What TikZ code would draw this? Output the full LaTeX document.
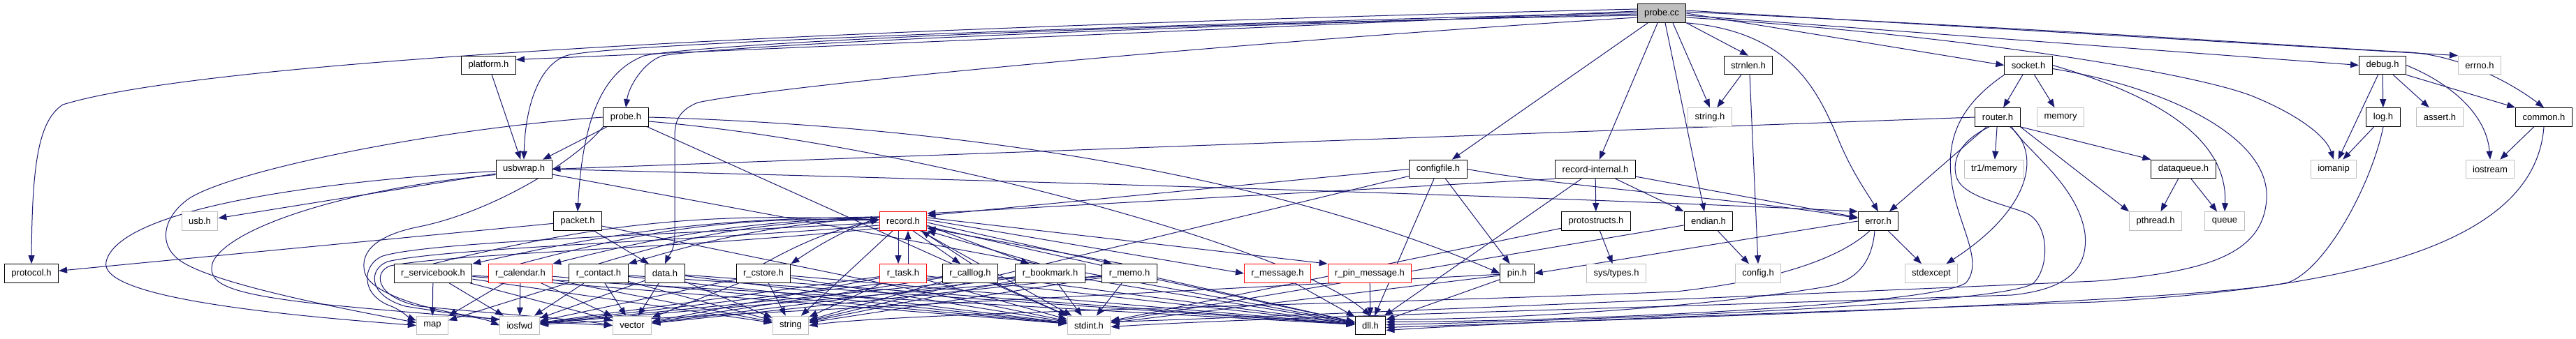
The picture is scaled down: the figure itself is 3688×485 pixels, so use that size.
\documentclass[tikz,border=0pt]{standalone}
\usepackage{fontspec}
\setmainfont{Liberation Sans}
\usetikzlibrary{arrows.meta}
\definecolor{edgec}{HTML}{191970}
\definecolor{grayb}{HTML}{BFBFBF}
\pgfdeclarelayer{background}
\pgfsetlayers{background,main}
\begin{document}
\begin{tikzpicture}[x=1pt,y=1pt,
  nb/.style={draw=black,fill=white,line width=1pt,minimum height=26.7pt,inner xsep=10pt,inner ysep=0pt,font=\fontsize{13}{15}\selectfont},
  ng/.style={nb,draw=grayb},
  nr/.style={nb,draw=red},
  nroot/.style={nb,fill=grayb},
  dep/.style={draw=edgec,line width=1pt,-{Triangle[length=12pt,width=9pt]}}]
\useasboundingbox (0,0) rectangle (3688,485);
% row 0
\node[nroot] (cc) at (2379,466) {probe.cc};
% row 1
\node[nb] (platform) at (699.5,391.5) {platform.h};
\node[nb] (strnlen) at (2503,391.5) {strnlen.h};
\node[nb] (socket) at (2904,391.5) {socket.h};
\node[nb] (debug) at (3411,391.5) {debug.h};
\node[ng] (errno) at (3550,391.5) {errno.h};
% row 2
\node[nb] (probeh) at (896,317) {probe.h};
\node[ng] (stringh) at (2448,317) {string.h};
\node[nb] (router) at (2860,317) {router.h};
\node[ng] (memory) at (2950,317) {memory};
\node[nb] (log) at (3412,317) {log.h};
\node[ng] (assert) at (3493,317) {assert.h};
\node[nb] (common) at (3642,317) {common.h};
% row 3
\node[nb] (usbwrap) at (750,242.5) {usbwrap.h};
\node[nb] (configfile) at (2059,242.5) {configfile.h};
\node[nb] (recint) at (2284,242.5) {record-internal.h};
\node[ng] (tr1) at (2855,242.5) {tr1/memory};
\node[nb] (dataqueue) at (3126,242.5) {dataqueue.h};
\node[ng] (iomanip) at (3341,242.5) {iomanip};
\node[ng] (iostream) at (3565,242.5) {iostream};
% row 4
\node[ng] (usb) at (286,168) {usb.h};
\node[nb] (packet) at (827,168) {packet.h};
\node[nr] (record) at (1293,168) {record.h};
\node[nb] (protostructs) at (2285,168) {protostructs.h};
\node[nb] (endian) at (2446,168) {endian.h};
\node[nb] (error) at (2689,168) {error.h};
\node[ng] (pthread) at (3086,168) {pthread.h};
\node[ng] (queue) at (3185,168) {queue};
% row 5
\node[nb] (protocol) at (45,93) {protocol.h};
\node[nb] (rsb) at (620,93) {r\_servicebook.h};
\node[nr] (rcal) at (745,93) {r\_calendar.h};
\node[nb] (rcon) at (857,93) {r\_contact.h};
\node[nb] (data) at (952,93) {data.h};
\node[nb] (rcs) at (1093,93) {r\_cstore.h};
\node[nr] (rtask) at (1293,93) {r\_task.h};
\node[nb] (rcl) at (1389,93) {r\_calllog.h};
\node[nb] (rbm) at (1503.5,93) {r\_bookmark.h};
\node[nb] (rmemo) at (1617,93) {r\_memo.h};
\node[nr] (rmsg) at (1829,93) {r\_message.h};
\node[nr] (rpin) at (1961,93) {r\_pin\_message.h};
\node[nb] (pin) at (2172,93) {pin.h};
\node[ng] (systypes) at (2314,93) {sys/types.h};
\node[ng] (config) at (2517,93) {config.h};
\node[ng] (stdexcept) at (2765,93) {stdexcept};
% row 6
\node[ng] (map) at (619,18.5) {map};
\node[ng] (iosfwd) at (744,18.5) {iosfwd};
\node[ng] (vector) at (905,18.5) {vector};
\node[ng] (string) at (1132,18.5) {string};
\node[ng] (stdint) at (1559,18.5) {stdint.h};
\node[nb] (dll) at (1962,18.5) {dll.h};

\begin{pgfonlayer}{background}
\fill[white] (0,0) rectangle (3688,485);
% ---- probe.cc
\draw[dep] ([yshift=6]cc.west) .. controls (1200,445) and (300,400) .. (90,335) .. controls (55,312) and (46,250) .. (protocol.north);
\draw[dep] ([yshift=3]cc.west) -- ([yshift=8]platform.east);
\draw[dep] ([yshift=1]cc.west) .. controls (1300,440) and (850,418) .. (810,405) .. controls (770,390) and (752,330) .. (usbwrap.north);
\draw[dep] ([yshift=-1]cc.west) .. controls (1400,440) and (1000,415) .. (948,405) .. controls (920,395) and (900,360) .. (probeh.north);
\draw[dep] ([yshift=-3]cc.west) .. controls (1400,445) and (980,418) .. (922,405) .. controls (870,385) and (835,330) .. (packet.north);
\draw[dep] ([yshift=-6]cc.west) .. controls (1700,420) and (1100,360) .. (999,338) .. controls (975,328) and (966,315) .. (966,290) -- (966,150) .. controls (966,125) and (957,118) .. (data.north);
\draw[dep] (cc) -- (configfile);
\draw[dep] (cc) -- (recint);
\draw[dep] ([xshift=5]cc.south) -- ([xshift=-6]endian.north);
\draw[dep] ([xshift=16]cc.south) -- (stringh.north);
\draw[dep] (cc.south east) -- (strnlen.north);
\draw[dep] (cc.south east) .. controls (2560,440) and (2600,360) .. (2630,290) .. controls (2650,240) and (2672,210) .. (error.north);
\draw[dep] (cc.east) -- (socket.west);
\draw[dep] ([yshift=-3]cc.east) -- (debug.west);
\draw[dep] ([yshift=4]cc.east) -- (errno.north west);
\draw[dep] ([yshift=2]cc.east) .. controls (3000,440) and (3300,418) .. (3450,410) .. controls (3520,405) and (3590,370) .. (common.north);
\draw[dep] ([yshift=-6]cc.east) .. controls (2800,436) and (3150,380) .. (3230,345) .. controls (3290,320) and (3330,290) .. (iomanip.north);
% ---- platform, probe.h
\draw[dep] (platform) -- (usbwrap);
\draw[dep] (probeh) -- (usbwrap);
\draw[dep] (probeh.east) .. controls (1500,300) and (1900,200) .. (pin.west);
\draw[dep] ([yshift=-6]probeh.east) .. controls (1300,280) and (1850,130) .. (dll.north);
\draw[dep] (probeh) -- (stdint);
\draw[dep] (probeh.west) .. controls (620,300) and (330,240) .. (270,200) .. controls (235,175) and (228,140) .. (250,118) .. controls (280,85) and (450,50) .. ([yshift=4]map.west);
\draw[dep] (probeh.south west) .. controls (820,250) and (700,180) .. (600,160) .. controls (540,148) and (515,125) .. (522,95) .. controls (530,62) and (620,38) .. ([yshift=8]iosfwd.west);
% ---- usbwrap
\draw[dep] (usbwrap) -- (usb);
\draw[dep] ([yshift=-3]usbwrap.west) .. controls (450,225) and (170,185) .. (152,110) .. controls (140,60) and (380,35) .. (map.west);
\draw[dep] ([yshift=-8]usbwrap.west) .. controls (500,215) and (330,160) .. (305,110) .. controls (295,80) and (320,65) .. (450,50) .. controls (650,30) and (800,22) .. (vector.west);
\draw[dep] (usbwrap.east) .. controls (1500,225) and (2300,200) .. (error.north west);
\draw[dep] (usbwrap) -- (dll);
% ---- packet
\draw[dep] (packet) -- (protocol);
\draw[dep] (packet) -- (data);
\draw[dep] (packet) -- (stdint);
% ---- configfile, record-internal
\draw[dep] (configfile.west) -- ([yshift=8]record.east);
\draw[dep] (configfile) -- (pin);
\draw[dep] (configfile) -- (string);
\draw[dep] (configfile) -- (dll);
\draw[dep] (configfile.east) .. controls (2250,215) and (2500,200) .. ([yshift=4]error.west);
\draw[dep] (recint) -- (protostructs);
\draw[dep] (recint.south west) -- ([yshift=11]record.east);
\draw[dep] (recint) -- (error);
\draw[dep] (recint) -- (endian.north west);
\draw[dep] (recint) -- (dll);
\draw[dep] (protostructs) -- (systypes);
\draw[dep] (protostructs) -- (stdint);
\draw[dep] (endian) -- (config);
\draw[dep] (endian) -- (stdint);
\draw[dep] (strnlen) -- (stringh);
\draw[dep] ([xshift=2]strnlen.south) -- (config.north);
% ---- error
\draw[dep] (error) -- (stdexcept);
\draw[dep] (error.west) -- (pin.east);
\draw[dep] ([xshift=-5]error.south) .. controls (2680,110) and (2660,85) .. (2620,75) .. controls (2450,45) and (2150,26) .. ([yshift=9]dll.east);
\draw[dep] ([xshift=-12]error.south) .. controls (2640,120) and (2560,85) .. (2400,67) .. controls (2000,50) and (1300,38) .. (string.east);
% ---- socket, router
\draw[dep] (socket) -- (router);
\draw[dep] (socket) -- (memory);
\draw[dep] (socket.east) .. controls (3080,350) and (3190,290) .. (queue.north);
\draw[dep] ([yshift=-5]socket.east) .. controls (3100,360) and (3250,290) .. (3245,200) .. controls (3240,120) and (3160,95) .. (3000,82) .. controls (2500,60) and (1800,30) .. ([yshift=5]stdint.east);
\draw[dep] (socket.south west) .. controls (2800,330) and (2785,280) .. (2795,218) .. controls (2805,160) and (2840,110) .. (2815,80) .. controls (2780,50) and (2300,25) .. ([yshift=5]dll.east);
\draw[dep] (router.west) -- (usbwrap.east);
\draw[dep] (router) -- (tr1);
\draw[dep] (router) -- (error);
\draw[dep] (router) .. controls (2920,270) and (2915,190) .. (stdexcept);
\draw[dep] (router.south east) -- (dataqueue.north west);
\draw[dep] (router.south east) -- (pthread.north west);
\draw[dep] ([xshift=-12]router.south) .. controls (2810,285) and (2795,260) .. (2800,235) .. controls (2805,205) and (2860,195) .. (2900,180) .. controls (2935,165) and (2935,100) .. (2910,78) .. controls (2850,45) and (2200,24) .. ([yshift=1]dll.east);
\draw[dep] ([xshift=20]router.south) .. controls (2900,270) and (2975,220) .. (2985,150) .. controls (2990,100) and (2960,70) .. (2880,62) .. controls (2400,45) and (1800,30) .. ([yshift=-2]stdint.east);
% ---- debug, log, common, dataqueue
\draw[dep] (debug) -- (log);
\draw[dep] (debug) -- (assert);
\draw[dep] (debug.south east) -- (common.north west);
\draw[dep] (debug.east) .. controls (3510,365) and (3560,320) .. (iostream.north);
\draw[dep] (debug) -- (iomanip);
\draw[dep] (log) -- (iomanip);
\draw[dep] (log.south) .. controls (3395,220) and (3330,100) .. (3276,80) .. controls (3150,52) and (2300,26) .. ([yshift=-3]dll.east);
\draw[dep] (common) -- (iostream);
\draw[dep] (common.south) .. controls (3630,150) and (3420,75) .. (3000,52) .. controls (2500,35) and (2150,22) .. ([yshift=-7]dll.east);
\draw[dep] (dataqueue) -- (pthread);
\draw[dep] (dataqueue) -- (queue);
% ---- record
\draw[dep] ([yshift=-2]record.west) .. controls (1000,150) and (620,140) .. (548,118) .. controls (518,106) and (515,62) .. (560,46) .. controls (575,40) and (585,30) .. ([yshift=7]map.west);
\draw[dep] ([yshift=-6]record.west) .. controls (1000,140) and (640,130) .. (555,110) .. controls (528,100) and (525,62) .. (580,46) .. controls (630,38) and (690,30) .. (iosfwd.west);
\draw[dep] ([yshift=-10]record.west) .. controls (1000,130) and (650,122) .. (559,104) .. controls (535,96) and (535,60) .. (600,46) .. controls (700,36) and (820,28) .. (vector.west);
\draw[dep] (record) -- (string);
\draw[dep] (record) -- (stdint);
\draw[dep] (record) -- (dll);
\foreach \t in {rsb,rcal,rcon,rcs}{
  \draw[dep] ([yshift=6]record.west) to[bend right=6] (\t.north east);
  \draw[dep] (\t.north) to[bend left=8] ([yshift=2]record.west);
}
\draw[dep] ([xshift=-7]record.south) -- ([xshift=-7]rtask.north);
\draw[dep] ([xshift=7]rtask.north) -- ([xshift=7]record.south);
\draw[dep] ([xshift=14]record.south) -- ([xshift=-14]rcl.north);
\draw[dep] ([xshift=2]rcl.north) -- ([xshift=26]record.south);
\draw[dep] ([yshift=-6]record.east) -- ([xshift=-30]rbm.north);
\draw[dep] ([xshift=-15]rbm.north) -- (record.south east);
\draw[dep] ([yshift=-2]record.east) -- ([xshift=-25]rmemo.north);
\draw[dep] ([xshift=-10]rmemo.north) -- ([yshift=-10]record.east);
\draw[dep] ([yshift=2]record.east) -- (rmsg.west);
\draw[dep] ([yshift=5]record.east) -- (rpin.north west);
% ---- leaves of the r_ headers
\foreach \s/\t in {rsb/map,rsb/iosfwd,rsb/vector,rsb/string,rsb/stdint,rsb/dll,
 rcal/map,rcal/iosfwd,rcal/vector,rcal/string,rcal/stdint,
 rcon/map,rcon/iosfwd,rcon/vector,rcon/string,rcon/stdint,rcon/dll,
 data/iosfwd,data/vector,data/string,data/stdint,data/dll,
 rcs/iosfwd,rcs/vector,rcs/string,rcs/stdint,rcs/dll,
 rtask/iosfwd,rtask/vector,rtask/string,rtask/stdint,rtask/dll,
 rcl/iosfwd,rcl/vector,rcl/string,rcl/stdint,rcl/dll,
 rbm/iosfwd,rbm/vector,rbm/string,rbm/stdint,rbm/dll,
 rmemo/iosfwd,rmemo/vector,rmemo/string,rmemo/stdint,rmemo/dll,
 rmsg/dll,rpin/dll,pin/iosfwd,pin/stdint,pin/dll}
 \draw[dep] (\s) -- (\t);
\end{pgfonlayer}
\end{tikzpicture}
\end{document}
